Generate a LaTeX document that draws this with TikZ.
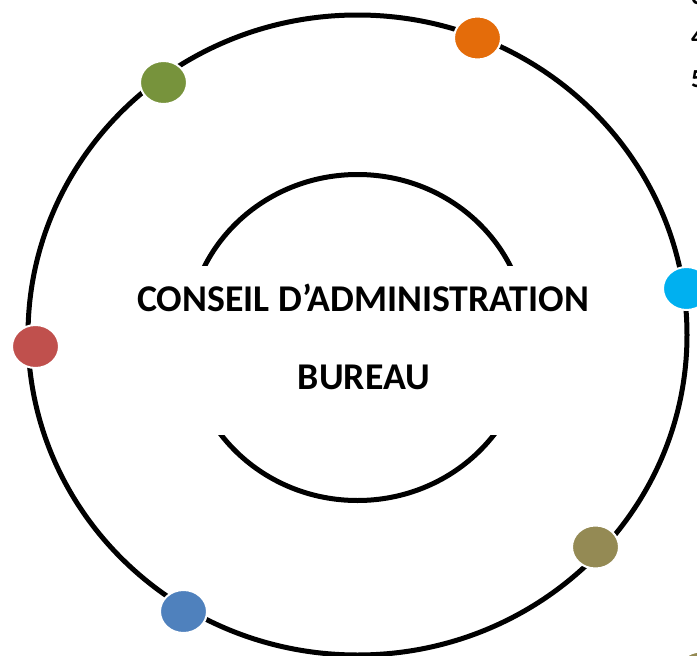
\documentclass[tikz,border=0pt]{standalone}
\usepackage{fontspec}
\setmainfont{Carlito}
\usetikzlibrary{shapes.geometric}
\definecolor{dotgreen}{HTML}{77933C}
\definecolor{dotorange}{HTML}{E46C0A}
\definecolor{dotcyan}{HTML}{00B0F0}
\definecolor{dotred}{HTML}{C0504D}
\definecolor{dotolive}{HTML}{948A54}
\definecolor{dotblue}{HTML}{4F81BD}
\tikzset{
  ring/.style={line width=5pt, draw=black},
  dot/.style={ellipse, minimum width=47pt, minimum height=43pt, inner sep=0pt, draw=white, line width=2pt, fill=#1},
  label/.style={anchor=base, inner sep=0pt, font=\fontsize{37.8}{44}\selectfont\bfseries},
  digit/.style={anchor=base west, inner sep=0pt, font=\fontsize{26}{30}\selectfont\bfseries}
}
\begin{document}
\begin{tikzpicture}[x=1pt,y=-1pt]
\useasboundingbox (0,0) rectangle (697,656);
\clip (0,0) rectangle (697,656);
\fill[white] (0,0) rectangle (697,656);
% outer ring
\draw[ring] (357.5,335) ellipse [x radius=329.5pt, y radius=320pt];
% inner arcs
\begin{scope}
  \clip (100,100) rectangle (620,265);
  \draw[ring] (357.5,337.5) ellipse [x radius=170pt, y radius=163pt];
\end{scope}
\begin{scope}
  \clip (100,435) rectangle (620,560);
  \draw[ring] (357.5,337.5) ellipse [x radius=170pt, y radius=163pt];
\end{scope}
% dots
\node[dot=dotgreen]  (g) at (163.5,82.5) {};
\node[dot=dotorange] (o) at (477.5,38) {};
\node[dot=dotcyan]   (c) at (686.5,288.5) {};
\node[dot=dotred]    (r) at (35.5,346.5) {};
\node[dot=dotolive]  (k) at (595.5,547) {};
\node[dot=dotblue]   (b) at (183.5,611.5) {};
\node[dot=dotolive]  (k2) at (701,673) {};
% texts
\node[label] (ca) at (363,311.7) {CONSEIL D’ADMINISTRATION};
\node[label] (bu) at (364,389) {BUREAU};
% clipped list numbers at the top right
\node[digit] (n3) at (691,4) {3};
\node[digit] (n4) at (691,45) {4};
\node[digit] (n5) at (691,87) {5};
\end{tikzpicture}
\end{document}
